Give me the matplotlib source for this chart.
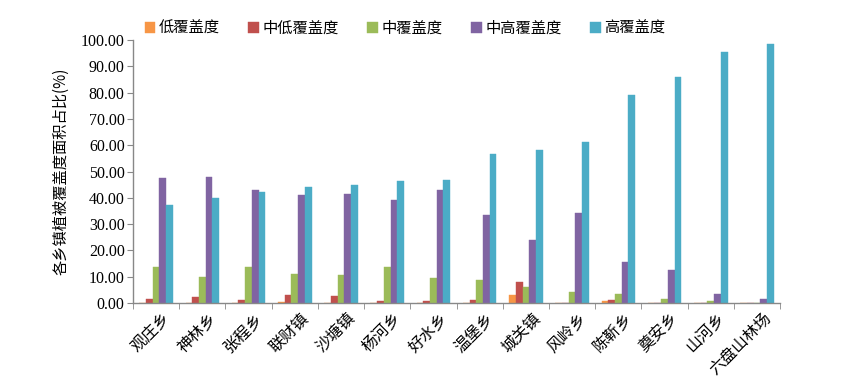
import matplotlib
matplotlib.use("Agg")
import matplotlib.pyplot as plt
import matplotlib.transforms as mtransforms
import numpy as np
from matplotlib.ticker import FixedLocator

plt.rcParams['font.family'] = ['Noto Sans CJK SC', 'DejaVu Sans']

towns = ["观庄乡", "神林乡", "张程乡", "联财镇", "沙塘镇", "杨河乡", "好水乡",
         "温堡乡", "城关镇", "风岭乡", "陈靳乡", "奠安乡", "山河乡", "六盘山林场"]
series_names = ["低覆盖度", "中低覆盖度", "中覆盖度", "中高覆盖度", "高覆盖度"]
low = [0.0, 0.2, 0.0, 0.6, 0.0, 0.0, 0.2, 0.0, 3.0, 0.0, 0.9, 0.0, 0.2, 0.0]
mid_low = [1.4, 2.4, 1.0, 3.0, 2.7, 0.9, 0.8, 1.3, 8.0, 0.0, 1.0, 0.0, 0.0, 0.0]
mid = [13.6, 9.8, 13.8, 11.0, 10.6, 13.7, 9.4, 8.7, 6.3, 4.4, 3.3, 1.4, 0.8, 0.0]
mid_high = [47.4, 47.8, 43.0, 40.9, 41.6, 39.0, 43.0, 33.3, 24.0, 34.1, 15.8, 12.5, 3.4, 1.4]
high = [37.4, 39.8, 42.2, 44.0, 45.0, 46.3, 46.6, 56.5, 58.3, 61.2, 79.0, 85.9, 95.6, 98.5]
colors = ["#F79646", "#C0504D", "#9BBB59", "#8064A2", "#4BACC6"]
yticks = [0, 10, 20, 30, 40, 50, 60, 70, 80, 90, 100]

fig = plt.figure(figsize=(8.47, 3.77), dpi=100)
ax = fig.add_axes([0.157, 0.196, 0.764, 0.698])

data = [low, mid_low, mid, mid_high, high]
x = np.arange(len(towns))
w = 0.145
for i, (vals, c, name) in enumerate(zip(data, colors, series_names)):
    ax.bar(x + (i - 2) * w, vals, width=w, color=c, label=name,
           edgecolor=c, linewidth=0.3)

ax.set_xlim(-0.5, len(towns) - 0.5)
ax.set_ylim(0, 100)
ax.set_yticks(yticks)
ax.set_yticklabels([f"{v:.2f}" for v in yticks], fontfamily='Liberation Serif', fontsize=11.5)
ax.set_xticks(x)
ax.set_xticklabels(towns, rotation=45, ha='right', va='center', rotation_mode='anchor', fontsize=11.5)
ax.tick_params(axis='x', which='major', length=0, pad=9)
offset = mtransforms.ScaledTranslation(0.12, 0, fig.dpi_scale_trans)
for lab in ax.get_xticklabels():
    lab.set_transform(lab.get_transform() + offset)
ax.xaxis.set_minor_locator(FixedLocator(np.arange(-0.5, len(towns), 1.0)))
ax.tick_params(axis='x', which='minor', length=4, color='#888888', direction='out')
ax.tick_params(axis='y', length=4, color='#888888', direction='out', pad=2)
for s in ['top', 'right']:
    ax.spines[s].set_visible(False)
for s in ['left', 'bottom']:
    ax.spines[s].set_color('#888888')
    ax.spines[s].set_linewidth(1.0)

ax.set_ylabel("各乡镇植被覆盖度面积占比(%)", fontsize=11, labelpad=8)

fig.legend(loc='center', bbox_to_anchor=(0.478, 0.925), ncol=5, frameon=False,
           fontsize=11, handlelength=0.7, handleheight=0.7, handletextpad=0.2,
           columnspacing=1.9)

fig.savefig("out.png", dpi=100)
